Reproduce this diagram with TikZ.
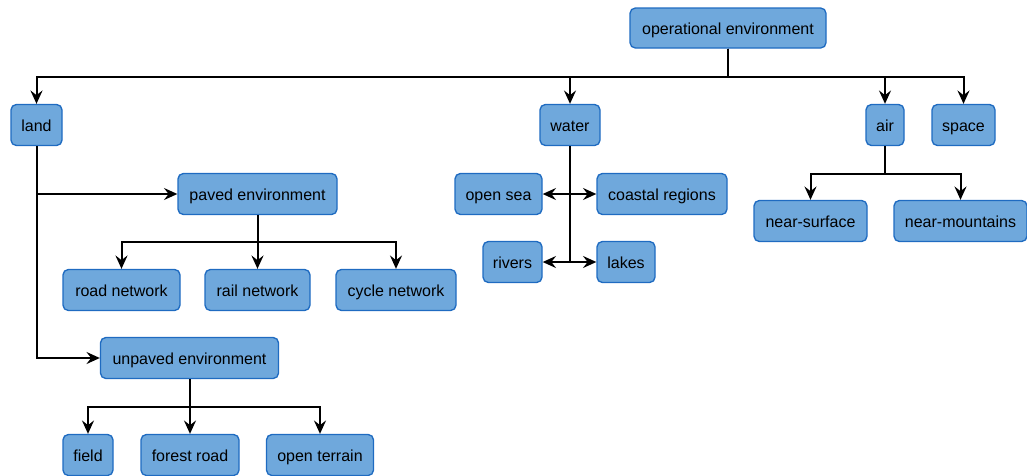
\documentclass[tikz,border=0pt]{standalone}
\usepackage{fontspec}
\setmainfont{Liberation Sans}
\usetikzlibrary{arrows.meta}
\definecolor{boxfill}{HTML}{6FA8DC}
\definecolor{boxline}{HTML}{1F6BC1}
\tikzset{
  box/.style={draw=boxline, fill=boxfill, line width=1pt, rounded corners=4pt,
    minimum height=41*0.75pt, inner sep=0pt, text height=10pt, text depth=1pt,
    font=\fontsize{12pt}{14pt}\selectfont},
  w/.style={minimum width=#1*0.75pt},
  link/.style={line width=1.5pt, draw=black},
  arr/.style={link, -{Stealth[length=10pt, width=9pt, inset=3.5pt]}},
}
\begin{document}
\begin{tikzpicture}[x=0.75pt, y=-0.75pt]
\useasboundingbox (0,0) rectangle (1027,475);

% first level
\node[box, w=196, minimum height=40*0.75pt] (op) at (728,28) {operational environment};
\node[box, w=51]  (land)  at (36.5,125) {land};
\node[box, w=60]  (water) at (570,125) {water};
\node[box, w=38]  (air)   at (885,125) {air};
\node[box, w=63]  (space) at (963.5,125) {space};

% land branch
\node[box, w=159] (paved)   at (257.5,194) {paved environment};
\node[box, w=117] (road)    at (121.5,290) {road network};
\node[box, w=105] (rail)    at (257.5,290) {rail network};
\node[box, w=120] (cycle)   at (396,290) {cycle network};
\node[box, w=178] (unpaved) at (189.5,358) {unpaved environment};
\node[box, w=50]  (field)   at (88,455) {field};
\node[box, w=98]  (forest)  at (190,455) {forest road};
\node[box, w=107] (terrain) at (320,455) {open terrain};

% water branch
\node[box, w=87]  (sea)     at (498.5,194) {open sea};
\node[box, w=130] (coast)   at (662,194) {coastal regions};
\node[box, w=59]  (rivers)  at (512.5,262) {rivers};
\node[box, w=58]  (lakes)   at (626,262) {lakes};

% air branch
\node[box, w=113] (nsurf)   at (810.5,221) {near-surface};
\node[box, w=133] (nmount)  at (960.5,221) {near-mountains};

% connectors from the root
\foreach \t in {land,water,air,space}
  \draw[arr] (op.south) -- ++(0,28) -| (\t.north);

% land
\draw[arr] (land.south) |- (paved.west);
\draw[arr] (land.south) |- (unpaved.west);
\foreach \t in {road,rail,cycle}
  \draw[arr] (paved.south) -- ++(0,27) -| (\t.north);
\foreach \t in {field,forest,terrain}
  \draw[arr] (unpaved.south) -- ++(0,28) -| (\t.north);

% water
\coordinate (wsea) at (water.south |- sea.east);
\coordinate (wriv) at (water.south |- rivers.east);
\draw[link] (water.south) -- (wriv);
\draw[arr] (wsea) -- (sea.east);
\draw[arr] (wsea) -- (coast.west);
\draw[arr] (wriv) -- (rivers.east);
\draw[arr] (wriv) -- (lakes.west);

% air
\foreach \t in {nsurf,nmount}
  \draw[arr] (air.south) -- ++(0,28) -| (\t.north);
\end{tikzpicture}
\end{document}
